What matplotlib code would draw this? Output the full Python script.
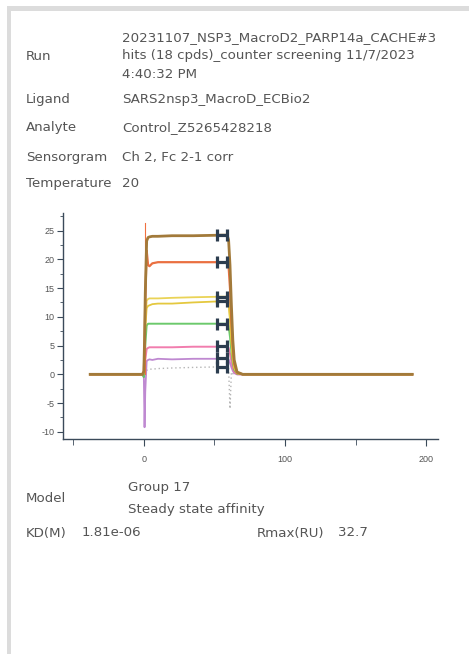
import matplotlib
matplotlib.use("Agg")
import matplotlib.pyplot as plt
from matplotlib.path import Path
from matplotlib.patches import Rectangle

plt.rcParams["axes.unicode_minus"] = False

# time points of the sensorgram (s)
t = [-38, -1, 0, 0.5, 1, 2, 3, 4, 6, 10, 20, 35, 55, 59, 60, 61, 62, 63, 64, 66, 70, 100, 150, 190]

# response (RU) per cycle
brown  = [0, 0, 0.5, 6, 14, 23.2, 23.8, 23.9, 24.0, 24.0, 24.1, 24.1, 24.2, 24.2, 23.4, 19, 12, 6, 2.5, 0.4, 0, 0, 0, 0]
orange = [0, 0, 0.5, 5, 13, 21.5, 19.0, 18.8, 19.3, 19.5, 19.5, 19.5, 19.5, 19.4, 18.8, 15, 9, 4.5, 1.8, 0.3, 0, 0, 0, 0]
yel1   = [0, 0, 0.3, 4, 9, 12.8, 13.1, 13.2, 13.2, 13.2, 13.3, 13.4, 13.5, 13.5, 13.0, 10, 6, 3, 1.2, 0.2, 0, 0, 0, 0]
yel2   = [0, 0, 0.3, 3, 8, 11.5, 11.9, 12.0, 12.2, 12.3, 12.3, 12.5, 12.7, 12.7, 12.2, 9.5, 5.5, 2.8, 1.1, 0.2, 0, 0, 0, 0]
green  = [0, 0, -0.5, 0.5, 5, 8.5, 8.8, 8.8, 8.8, 8.8, 8.8, 8.8, 8.8, 8.8, 8.4, 6.5, 4, 2, 0.8, 0.1, 0, 0, 0, 0]
pink   = [0, 0, 0, 0.5, 2.5, 4.4, 4.6, 4.7, 4.7, 4.7, 4.7, 4.8, 4.8, 4.8, 4.6, 3.6, 2.2, 1.1, 0.4, 0, 0, 0, 0, 0]
purple = [0, 0, -0.5, -9.2, -3, 2.3, 2.5, 2.6, 2.5, 2.7, 2.6, 2.7, 2.7, 2.7, 2.6, 2.0, 1.2, 0.6, 0.2, 0, 0, 0, 0, 0]
gray   = [0, 0, 0, 0.2, 0.5, 0.7, 0.8, 0.9, 0.9, 1.0, 1.1, 1.2, 1.3, 1.3, 1.2, -6.0, 0.4, 0.1, 0, 0, 0, 0, 0, 0]

# report points (t = 55 s)
rp_t = 55.5
rp_vals = [24.3, 19.6, 13.5, 12.7, 8.8, 4.9, 2.9, 1.3]

info_labels = ["Run", "Ligand", "Analyte", "Sensorgram", "Temperature"]
info_values = ["SARS2nsp3_MacroD_ECBio2", "Control_Z5265428218", "Ch 2, Fc 2-1 corr", "20"]
run_lines = ["20231107_NSP3_MacroD2_PARP14a_CACHE#3",
             "hits (18 cpds)_counter screening 11/7/2023",
             "4:40:32 PM"]

fig = plt.figure(figsize=(4.69, 6.54), dpi=100)
fig.patch.set_facecolor("white")

# light grey frame on top and left
fig.add_artist(Rectangle((7/469, 0), 4/469, 1 - 6/654, transform=fig.transFigure, color="#dcdcdc", lw=0))
fig.add_artist(Rectangle((7/469, 1 - 11/654), 1, 5/654, transform=fig.transFigure, color="#dcdcdc", lw=0))

txt = dict(fontsize=9.6, color="#555555", family="DejaVu Sans", va="center")
def put(x, y, s):
    fig.text(x/469, 1 - y/654, s, **txt)

for lab, y in zip(info_labels, [56, 100, 128, 157, 184]):
    put(26, y, lab)
for line, y in zip(run_lines, [37.5, 56, 74.5]):
    put(122, y, line)
for val, y in zip(info_values, [100, 128, 157, 184]):
    put(122, y, val)

put(26, 498, "Model")
put(128, 488, "Group 17")
put(128, 509, "Steady state affinity")
put(26, 533, "KD(M)")
put(82, 533, "1.81e-06")
put(257, 533, "Rmax(RU)")
put(338, 533, "32.7")

ax = fig.add_axes([62.5/469, 1 - 439.3/654, 375.8/469, 226/654])
ax.plot(t, gray, color="#b5b5b5", lw=1.0, ls=(0, (1, 2)))
ax.plot(t, purple, color="#b87ccc", lw=1.3, alpha=0.9)
ax.plot(t, pink, color="#f06fa5", lw=1.4, alpha=0.9)
ax.plot(t, green, color="#5cc45c", lw=1.4, alpha=0.9)
ax.plot(t, yel2, color="#e2c22a", lw=1.3, alpha=0.9)
ax.plot(t, yel1, color="#e8cf45", lw=1.3, alpha=0.9)
ax.plot(t, orange, color="#e8602c", lw=1.6, alpha=0.9)
ax.plot([1, 1], [0, 26.3], color="#f07040", lw=0.8)
ax.plot(t, brown, color="#a27a3a", lw=2.0)

hpath = Path([(-0.8, -1), (-0.8, 1), (0.8, -1), (0.8, 1), (-0.8, 0), (0.8, 0)],
             [Path.MOVETO, Path.LINETO, Path.MOVETO, Path.LINETO, Path.MOVETO, Path.LINETO])
ax.plot([rp_t] * len(rp_vals), rp_vals, ls="none", marker=hpath, ms=8.5,
        mec="#2c3d4f", mfc="none", mew=2.3)

ax.set_xlim(-57.6, 208.5)
ax.set_ylim(-11.3, 28)
ax.set_xticks([0, 100, 200])
ax.set_xticks([-50, 50, 150], minor=True)
ax.set_yticks([-10, -5, 0, 5, 10, 15, 20, 25])
ax.set_yticks([-7.5, -2.5, 2.5, 7.5, 12.5, 17.5, 22.5, 27.5], minor=True)
for s in ["top", "right"]:
    ax.spines[s].set_visible(False)
for s in ["left", "bottom"]:
    ax.spines[s].set_color("#3b4a5a")
    ax.spines[s].set_linewidth(1.0)
ax.tick_params(which="both", colors="#3b4a5a", labelcolor="#555555", labelsize=6.5)
ax.tick_params(axis="y", which="major", length=4, pad=2)
ax.tick_params(axis="y", which="minor", length=2.5)
ax.tick_params(axis="x", which="major", length=5, pad=6)
ax.tick_params(axis="x", which="minor", length=4)
for lab in ax.get_xticklabels() + ax.get_yticklabels():
    lab.set_family("Liberation Sans")

fig.savefig("out.png", dpi=100)
